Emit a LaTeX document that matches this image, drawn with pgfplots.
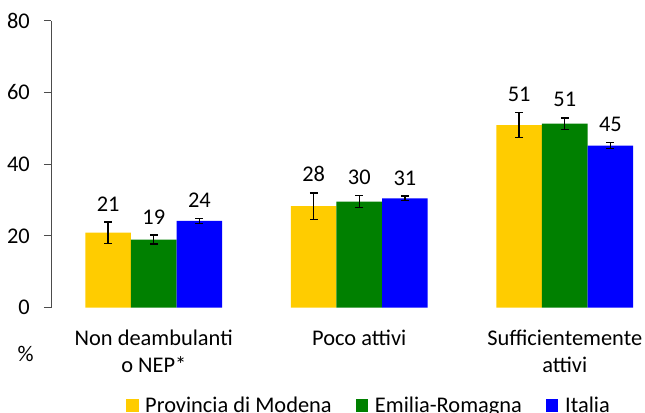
\documentclass[border=0pt]{standalone}
\usepackage{pgfplots}
\pgfplotsset{compat=1.18}
\usepackage{pgfplotstable}
\usepackage{fontspec}
\setmainfont{Carlito}
\definecolor{cyel}{HTML}{FFCC00}
\definecolor{cgrn}{HTML}{008000}
\definecolor{cblu}{HTML}{0000FF}

\pgfplotstableread{
x y err lab
0 20.9 3.0 21
1 28.3 3.7 28
2 50.9 3.5 51
}\modena
\pgfplotstableread{
x y err lab
0 19.0 1.25 19
1 29.6 1.6 30
2 51.3 1.6 51
}\emilia
\pgfplotstableread{
x y err lab
0 24.2 0.7 24
1 30.5 0.65 31
2 45.2 0.8 45
}\italia

\pgfplotsset{myerr/.style={error bars/.cd, y dir=both, y explicit,
  error bar style={line width=1pt, black},
  error mark options={rotate=90, mark size=2.9pt, line width=1pt, black}}}

\begin{document}
\begin{tikzpicture}[font=\fontsize{16.8}{20.25}\selectfont]
\useasboundingbox (0,0) rectangle (483.75pt,309pt);
\clip (0,0) rectangle (483.75pt,309pt);
\begin{axis}[
  at={(38.25pt,78.225pt)}, anchor=south west,
  scale only axis, width=445.5pt, height=215.25pt,
  xmin=-0.5, xmax=2.3905, ymin=0, ymax=80,
  ybar, bar width=34.2pt,
  separate axis lines,
  axis x line*=bottom, axis y line*=left,
  x axis line style={draw=none},
  y axis line style={black!70, line width=0.75pt, -},
  ytick={0,20,40,60,80},
  tick align=outside, major tick length=5.25pt,
  ytick style={black!70, line width=0.75pt},
  xtick={0,1,2}, xtick style={draw=none},
  xticklabels={{Non deambulanti\\o NEP*},{Poco attivi},{Sufficientemente\\attivi}},
  xticklabel style={align=center, anchor=north, inner sep=0pt, yshift=-11pt},
  yticklabel style={anchor=east, inner sep=0pt, xshift=-10.5pt},
  /pgf/number format/assume math mode=true,
  title={PASSI d'Argento 2012-2013},
  title style={at={(axis description cs:0.4907,1.0582)}, anchor=base, inner sep=0pt},
  ylabel={\%},
  every axis y label/.style={at={(axis description cs:-0.0429,-0.1883)}, anchor=base, inner sep=0pt},
  legend columns=3,
  legend style={draw=none, fill=none, inner sep=0pt, outer sep=0pt,
    at={(axis description cs:0.1263,-0.372)}, anchor=south west,
    nodes={inner sep=0pt, anchor=base west},
    /tikz/every odd column/.append style={column sep=5pt},
    /tikz/every even column/.append style={column sep=18pt}},
  legend image code/.code={\fill[#1] (0pt,0pt) rectangle (9.4pt,10pt);},
  nodes near coords,
  point meta=explicit symbolic,
  visualization depends on={\thisrow{err} \as \myerr},
  every node near coord/.append style={inner sep=0pt, anchor=south, black,
    yshift=\myerr*2.6906pt+7.9pt},
]
\addplot[fill=cyel, draw=none, bar shift=-34.2pt, myerr] table[x=x, y=y, y error=err, meta=lab] {\modena};
\addplot[fill=cgrn, draw=none, bar shift=0pt, myerr] table[x=x, y=y, y error=err, meta=lab] {\emilia};
\addplot[fill=cblu, draw=none, bar shift=34.2pt, myerr] table[x=x, y=y, y error=err, meta=lab] {\italia};
\legend{Provincia di Modena, Emilia-Romagna, Italia}
\end{axis}
\end{tikzpicture}
\end{document}
